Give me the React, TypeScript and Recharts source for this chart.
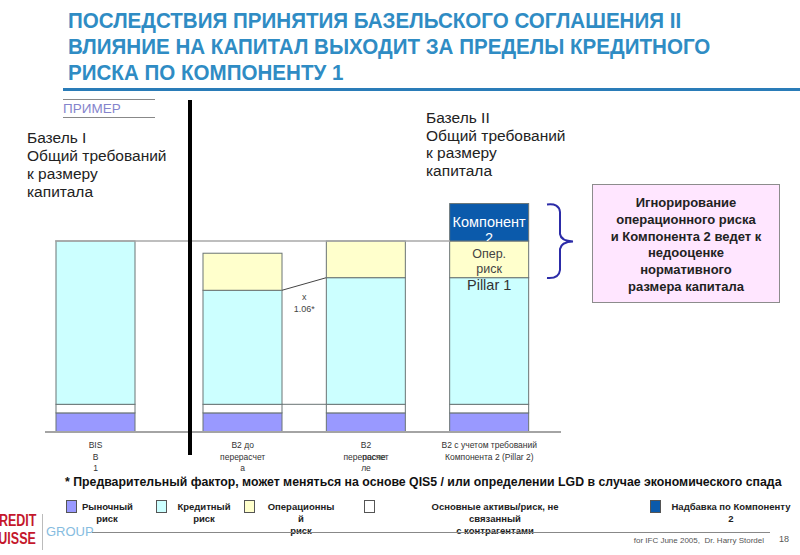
import React from 'react';
import { BarChart, Bar, XAxis, YAxis, ReferenceLine } from 'recharts';

// --- data (units: Basel I total = 100) ---
const categories = ['BIS B1', 'B2 до перерасчета', 'B2 после перерасчета', 'B2 с учетом Pillar 2'];
const tickLines = [
  ['BIS', 'B', '1'],
  ['B2 до', 'перерасчет', 'а'],
  ['B2', 'перерасчет', 'ле'],
  ['B2 с учетом требований', 'Компонента 2 (Pillar 2)'],
];
const marketRisk = [10, 10, 10, 10];
const otherAssets = [4.5, 4.5, 4.5, 4.5];
const creditRisk = [85.5, 59.7, 66.3, 66.3];
const operRisk = [0, 19.4, 19.2, 19.2];
const pillar2Addon = [0, 0, 0, 19.6];

const legendLabels = [
  ['Рыночный', 'риск'],
  ['Кредитный', 'риск'],
  ['Операционны', 'й', 'риск'],
  ['Основные активы/риск, не', 'связанный', 'с контрагентами'],
  ['Надбавка по Компоненту', '2'],
];

const rows = categories.map((name, i) => ({
  name,
  idx: i,
  market: marketRisk[i],
  other: otherAssets[i],
  credit: creditRisk[i],
  oper: operRisk[i],
  pillar2: pillar2Addon[i],
}));

const C_MARKET = '#9999ff';
const C_CREDIT = '#ccffff';
const C_OPER = '#ffffcc';
const C_OTHER = '#ffffff';
const C_P2 = '#0b5aab';
const EDGE = '#6a7474';
const SANS = '"Liberation Sans", Arial, sans-serif';

// right chart geometry: plot 380px wide, 10px right padding, 3 bands
const BAR = 79;
const RIGHT_W = 400;
const RIGHT_MR = 20;
const RIGHT_PAD = 10;
const GAP = (RIGHT_W - RIGHT_MR - RIGHT_PAD) / 3 - BAR;

const segment = (fill: string, extra?: (p: any) => React.ReactNode) => (p: any) => {
  if (!p.height || p.height <= 0) return <g />;
  return (
    <g>
      <rect x={p.x} y={p.y} width={p.width} height={p.height} fill={fill} stroke={EDGE} strokeWidth={1} />
      {extra ? extra(p) : null}
    </g>
  );
};

const otherShape = segment(C_OTHER, (p) =>
  p.payload.idx === 2 ? <line x1={p.x - GAP} y1={p.y} x2={p.x} y2={p.y} stroke={EDGE} /> : null
);

const creditShape = segment(C_CREDIT, (p) => {
  const i = p.payload.idx;
  if (i === 2) {
    const bottom = p.y + p.height;
    const prevTop = bottom - (creditRisk[1] / creditRisk[2]) * p.height;
    return (
      <g>
        <line x1={p.x - GAP} y1={prevTop} x2={p.x} y2={p.y} stroke="#444" strokeWidth={1} />
        <text x={p.x - GAP / 2} y={p.y + 22} textAnchor="middle" fontSize={9} fill="#444">x</text>
        <text x={p.x - GAP / 2} y={p.y + 34} textAnchor="middle" fontSize={9} fill="#444">1.06*</text>
      </g>
    );
  }
  if (i === 3) {
    return (
      <text x={p.x + p.width / 2} y={p.y + 12} textAnchor="middle" fontSize={14.5} fill="#333">Pillar 1</text>
    );
  }
  return null;
});

const operShape = segment(C_OPER, (p) =>
  p.payload.idx === 3 ? (
    <g>
      <text x={p.x + p.width / 2} y={p.y + 16.5} textAnchor="middle" fontSize={12.5} fill="#444">Опер.</text>
      <text x={p.x + p.width / 2} y={p.y + 31.5} textAnchor="middle" fontSize={12.5} fill="#444">риск</text>
    </g>
  ) : null
);

const p2Shape = segment(C_P2, (p) => (
  <svg x={p.x} y={p.y} width={p.width} height={p.height} overflow="hidden">
    <text x={p.width / 2} y={23} textAnchor="middle" fontSize={14.5} fill="#fff">Компонент</text>
    <text x={p.width / 2} y={39} textAnchor="middle" fontSize={14.5} fill="#fff">2</text>
  </svg>
));

const CategoryTick = (props: any) => {
  const { x, y, payload } = props;
  const i = categories.indexOf(payload.value);
  const lines = tickLines[i] || [];
  return (
    <g>
      {lines.map((line, k) => (
        <text key={k} x={x} y={y + 16 + k * 11.5} textAnchor="middle" fontSize={8.5} fill="#333">
          {line}
        </text>
      ))}
      {i === 2 ? (
        <text x={x + 8} y={y + 27.5} textAnchor="middle" fontSize={8.5} fill="#333">после</text>
      ) : null}
    </g>
  );
};

const Y_DOMAIN: [number, number] = [0, 120];
const MARGIN_TOP = 202.8;
const MARGIN_BOTTOM = 93;

const stackBars = [
  <Bar key="m" dataKey="market" stackId="s" isAnimationActive={false} shape={segment(C_MARKET)} />,
  <Bar key="o" dataKey="other" stackId="s" isAnimationActive={false} shape={otherShape} />,
  <Bar key="c" dataKey="credit" stackId="s" isAnimationActive={false} shape={creditShape} />,
  <Bar key="r" dataKey="oper" stackId="s" isAnimationActive={false} shape={operShape} />,
  <Bar key="p" dataKey="pillar2" stackId="s" isAnimationActive={false} shape={p2Shape} />,
];

const legendColors = [C_MARKET, C_CREDIT, C_OPER, C_OTHER, C_P2];
const legendBox = [66, 156, 244, 364, 650];
const legendText = [
  { left: 82, width: 50 },
  { left: 172, width: 64 },
  { left: 260, width: 82 },
  { left: 425, width: 140 },
  { left: 664, width: 134 },
];

export default function App() {
  return (
    <div
      style={{
        position: 'absolute',
        left: 0,
        top: 0,
        width: 800,
        height: 555,
        background: '#fff',
        overflow: 'hidden',
        fontFamily: SANS,
      }}
    >
      {/* title */}
      <div
        style={{
          position: 'absolute',
          left: 68,
          top: 8,
          fontWeight: 'bold',
          fontSize: 22,
          lineHeight: '26px',
          color: '#2f8cc4',
          whiteSpace: 'pre',
          transform: 'scaleX(0.935)',
          transformOrigin: 'left top',
        }}
      >
        {'ПОСЛЕДСТВИЯ ПРИНЯТИЯ БАЗЕЛЬСКОГО СОГЛАШЕНИЯ II\nВЛИЯНИЕ НА КАПИТАЛ ВЫХОДИТ ЗА ПРЕДЕЛЫ КРЕДИТНОГО\nРИСКА ПО КОМПОНЕНТУ 1'}
      </div>
      <div style={{ position: 'absolute', left: 63, top: 88, width: 737, height: 3, background: '#2a7cb8' }} />

      {/* example tag */}
      <div style={{ position: 'absolute', left: 63, top: 99, width: 92, height: 1, background: '#888' }} />
      <div style={{ position: 'absolute', left: 63, top: 117, width: 92, height: 1, background: '#888' }} />
      <div style={{ position: 'absolute', left: 63, top: 101, fontSize: 13.5, lineHeight: '16px', color: '#8484cc' }}>
        ПРИМЕР
      </div>

      {/* side captions */}
      <div style={{ position: 'absolute', left: 27, top: 129, fontSize: 15.5, lineHeight: '18px', color: '#222', whiteSpace: 'pre' }}>
        {'Базель I\nОбщий требований\nк размеру\nкапитала'}
      </div>
      <div style={{ position: 'absolute', left: 426, top: 109, fontSize: 15.5, lineHeight: '17.5px', color: '#222', whiteSpace: 'pre' }}>
        {'Базель II\nОбщий требований\nк размеру\nкапитала'}
      </div>

      {/* Basel I chart */}
      <div style={{ position: 'absolute', left: 0, top: 0 }}>
        <BarChart
          width={181}
          height={555}
          data={rows.slice(0, 1)}
          margin={{ top: MARGIN_TOP, right: 0, bottom: MARGIN_BOTTOM, left: 45 }}
          barSize={BAR}
        >
          <XAxis
            dataKey="name"
            height={30}
            interval={0}
            axisLine={{ stroke: '#a4a4a4', strokeWidth: 2 }}
            tickLine={false}
            tickSize={0}
            tickMargin={0}
            tick={<CategoryTick />}
            padding={{ left: 0, right: 35 }}
          />
          <YAxis hide domain={Y_DOMAIN} />
          <ReferenceLine
            y={100}
            stroke="#a8a8a8"
            strokeWidth={1.5}
            shape={(p: any) => <line x1={p.x1 + 10} y1={p.y1} x2={p.x2} y2={p.y2} stroke="#a8a8a8" strokeWidth={1.5} />}
          />
          {stackBars}
        </BarChart>
      </div>

      {/* Basel II chart */}
      <div style={{ position: 'absolute', left: 181, top: 0 }}>
        <BarChart
          width={RIGHT_W}
          height={555}
          data={rows.slice(1)}
          margin={{ top: MARGIN_TOP, right: RIGHT_MR, bottom: MARGIN_BOTTOM, left: 0 }}
          barSize={BAR}
        >
          <XAxis
            dataKey="name"
            height={30}
            interval={0}
            axisLine={{ stroke: '#a4a4a4', strokeWidth: 2 }}
            tickLine={false}
            tickSize={0}
            tickMargin={0}
            tick={<CategoryTick />}
            padding={{ left: 0, right: RIGHT_PAD }}
          />
          <YAxis hide domain={Y_DOMAIN} />
          <ReferenceLine
            y={100}
            stroke="#a8a8a8"
            strokeWidth={1.5}
            shape={(p: any) => <line x1={p.x1} y1={p.y1} x2={p.x2 - 111} y2={p.y2} stroke="#a8a8a8" strokeWidth={1.5} />}
          />
          {stackBars}
        </BarChart>
      </div>

      {/* divider between Basel I and Basel II */}
      <div style={{ position: 'absolute', left: 188, top: 100, width: 4, height: 355, background: '#000' }} />

      {/* brace and callout */}
      <svg style={{ position: 'absolute', left: 0, top: 0 }} width={800} height={555} pointerEvents="none">
        <path
          d="M547 204.5 Q559 203 560 212 L560 234 Q561 241 573 241.5 Q561 242 560 249 L560 270 Q559 279 547 278"
          fill="none"
          stroke="#2c2ca8"
          strokeWidth={2}
        />
      </svg>
      <div
        style={{
          position: 'absolute',
          left: 592,
          top: 184,
          width: 186,
          height: 117,
          background: '#ffe6ff',
          border: '1px solid #8c8c8c',
          textAlign: 'center',
          fontWeight: 'bold',
          fontSize: 13,
          lineHeight: '16.8px',
          color: '#222',
        }}
      >
        <div style={{ paddingTop: 10 }}>
          Игнорирование
          <br />
          операционного риска
          <br />
          и Компонента 2 ведет к
          <br />
          недооценке
          <br />
          нормативного
          <br />
          размера капитала
        </div>
      </div>

      {/* footnote */}
      <div style={{ position: 'absolute', left: 65, top: 474, fontSize: 12.3, lineHeight: '16px', fontWeight: 'bold', color: '#111', whiteSpace: 'nowrap' }}>
        * Предварительный фактор, может меняться на основе QIS5 / или определении LGD в случае экономического спада
      </div>

      {/* legend */}
      {legendLabels.map((lines, i) => (
        <React.Fragment key={i}>
          <div
            style={{
              position: 'absolute',
              left: legendBox[i],
              top: 500,
              width: 9,
              height: 11,
              background: legendColors[i],
              border: '1px solid #555',
            }}
          />
          <div
            style={{
              position: 'absolute',
              left: legendText[i].left,
              width: legendText[i].width,
              top: 501,
              textAlign: 'center',
              fontSize: 9.5,
              lineHeight: '12px',
              fontWeight: 'bold',
              color: '#222',
            }}
          >
            {lines.map((l, k) => (
              <div key={k} style={{ whiteSpace: 'nowrap' }}>{l}</div>
            ))}
          </div>
        </React.Fragment>
      ))}

      {/* footer */}
      <div
        style={{
          position: 'absolute',
          left: -10,
          top: 512,
          fontWeight: 'bold',
          fontSize: 16,
          lineHeight: '18px',
          color: '#c4172c',
          transform: 'scaleX(0.78)',
          transformOrigin: 'left top',
        }}
      >
        CREDIT
        <br />
        SUISSE
      </div>
      <div style={{ position: 'absolute', left: 42, top: 514, width: 1, height: 36, background: '#bbb' }} />
      <div style={{ position: 'absolute', left: 46, top: 525, fontSize: 13, lineHeight: '14px', color: '#86bce0' }}>GROUP</div>
      <div style={{ position: 'absolute', left: 92, top: 532, width: 678, height: 1, background: '#888' }} />
      <div style={{ position: 'absolute', right: 36, top: 536, fontSize: 8, lineHeight: '10px', color: '#555', whiteSpace: 'nowrap' }}>
        for IFC June 2005,&nbsp; Dr. Harry Stordel
      </div>
      <div style={{ position: 'absolute', left: 779, top: 534, fontSize: 9, lineHeight: '10px', color: '#555' }}>18</div>
    </div>
  );
}
